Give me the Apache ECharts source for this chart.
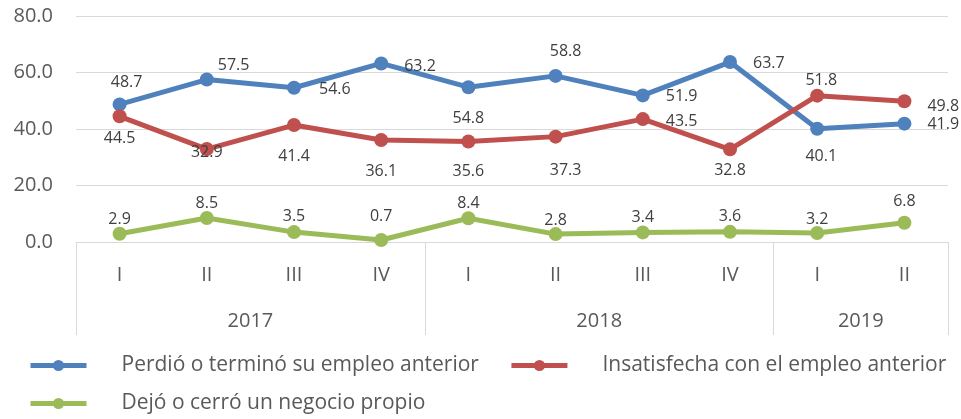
<!DOCTYPE html>
<html>
<head>
<meta charset="utf-8">
<script src="https://cdn.jsdelivr.net/npm/echarts@6/dist/echarts.min.js"></script>
<style>html,body{margin:0;padding:0;background:#fff}#c{width:961px;height:419px}</style>
</head>
<body>
<div id="c"></div>
<script>
const quarters = ['I','II','III','IV','I','II','III','IV','I','II'];
const years = ['2017','2018','2019'];
const yearCounts = [4,4,2];
const yTicks = [0,20,40,60,80];
const seriesNames = ['Perdió o terminó su empleo anterior','Insatisfecha con el empleo anterior','Dejó o cerró un negocio propio'];
const perdio = [48.7,57.5,54.6,63.2,54.8,58.8,51.9,63.7,40.1,41.9];
const insatisfecha = [44.5,32.9,41.4,36.1,35.6,37.3,43.5,32.8,51.8,49.8];
const dejo = [2.9,8.5,3.5,0.7,8.4,2.8,3.4,3.6,3.2,6.8];

const FONT = 'Open Sans';
// label placement (style only)
const bluePos  = ['top','right','right','right','bottom','top','right','right','bottom','right'];
const blueDist = [10,4,18,16,13,12,16,16,10,16];
const blueOff  = [[7,0],[0,-14],[0,2],[0,3],[0,0],[10,0],[0,1],[0,1],[4,0],[0,1]];
const redPos   = ['bottom','inside','bottom','bottom','bottom','bottom','right','bottom','top','right'];
const redDist  = [4,0,13,13,12,16,16,3,3,16];
const redOff   = [[0,0],[0,3],[0,0],[0,0],[0,0],[10,0],[0,2],[0,0],[4,0],[0,5]];
const greenPos = ['top','top','top','top','top','top','top','top','top','top'];
const greenDist= [2,3,4,12,3,2,3,3,2,9];
const greenOff = [[0,0],[0,0],[0,0],[0,0],[0,0],[0,0],[0,0],[0,0],[0,0],[0,0]];

const boundaries = [0];
yearCounts.forEach(n => boundaries.push(boundaries[boundaries.length-1] + n));
const centers = yearCounts.map((n,i) => boundaries[i] + n/2);
const total = boundaries[boundaries.length-1];

function mkData(vals, pos, dist, off) {
  return vals.map((v,i) => {
    const shift = (pos[i] === 'top' || pos[i] === 'bottom') ? 3 : 0;
    return {value: v, label: {position: pos[i], distance: dist[i], offset: [off[i][0], off[i][1] + shift]}};
  });
}
function mkSeries(name, vals, pos, dist, off, color) {
  return {
    name, type: 'line', data: mkData(vals, pos, dist, off),
    symbol: 'circle', symbolSize: 14,
    itemStyle: {color},
    lineStyle: {color, width: 5},
    emphasis: {disabled: true},
    label: {show: true, formatter: p => p.value.toFixed(1), fontFamily: FONT, fontSize: 16, color: '#404040'}
  };
}
const legendText = {fontFamily: FONT, fontSize: 21, color: '#595959', padding: [0,0,0,30]};
const chart = echarts.init(document.getElementById('c'), null, {renderer: 'canvas'});
chart.setOption({
  animation: false,
  backgroundColor: '#fff',
  grid: {left: 76, right: 13, top: 16, bottom: 177, containLabel: false},
  xAxis: [{
    type: 'category', data: quarters, boundaryGap: true, position: 'bottom',
    axisLine: {show: true, lineStyle: {color: '#d9d9d9', width: 1}},
    axisTick: {show: false},
    axisLabel: {margin: 23, fontFamily: FONT, fontSize: 20, color: '#595959'}
  }, {
    type: 'value', min: 0, max: total, position: 'bottom', gridIndex: 0,
    axisLine: {show: false},
    splitLine: {show: false},
    axisTick: {show: true, customValues: boundaries, length: 93, inside: false, lineStyle: {color: '#d9d9d9', width: 1}},
    axisLabel: {show: true, customValues: centers, margin: 69, fontFamily: FONT, fontSize: 20, color: '#595959',
      formatter: v => { const i = centers.indexOf(v); return i >= 0 ? years[i] : ''; }}
  }],
  yAxis: {
    type: 'value', min: yTicks[0], max: yTicks[yTicks.length-1], interval: 20,
    axisLine: {show: false}, axisTick: {show: false},
    splitLine: {lineStyle: {color: '#d9d9d9', width: 1}},
    axisLabel: {margin: 23, fontFamily: FONT, fontSize: 20, color: '#595959', formatter: v => v.toFixed(1)}
  },
  legend: [{
    data: [seriesNames[0], seriesNames[1]], left: 28, top: 355, padding: 0, orient: 'horizontal',
    itemWidth: 56, itemHeight: 14, itemGap: 30, lineStyle: {width: 5},
    textStyle: legendText
  }, {
    data: [seriesNames[2]], left: 28, top: 393, padding: 0, orient: 'horizontal',
    itemWidth: 56, itemHeight: 14, lineStyle: {width: 5},
    textStyle: legendText
  }],
  series: [
    mkSeries(seriesNames[0], perdio, bluePos, blueDist, blueOff, '#4f81bd'),
    mkSeries(seriesNames[1], insatisfecha, redPos, redDist, redOff, '#c0504d'),
    mkSeries(seriesNames[2], dejo, greenPos, greenDist, greenOff, '#9bbb59')
  ]
});
</script>
</body>
</html>
